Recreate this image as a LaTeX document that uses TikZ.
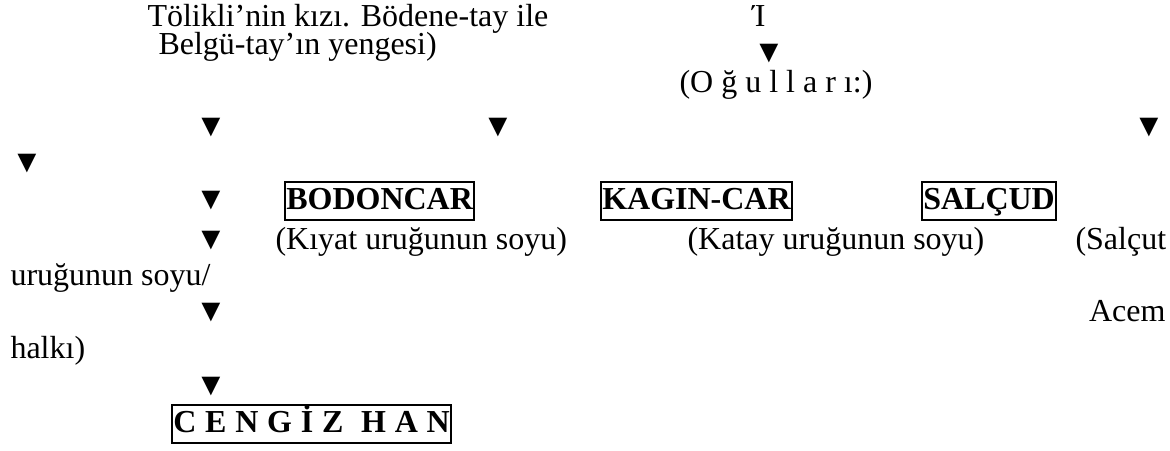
\documentclass[tikz,border=0pt]{standalone}
\usepackage{fontspec}
\setmainfont{Liberation Serif}
\begin{document}
\begin{tikzpicture}[x=0.375pt,y=-0.375pt,
  txt/.style={inner sep=0pt,font=\fontsize{12pt}{14pt}\selectfont,anchor=base west},
  tri/.style={inner sep=0pt,font=\fontsize{12pt}{14pt}\selectfont,anchor=base},
  boxed/.style={draw,line width=0.7pt,inner xsep=0.5pt,inner ysep=0pt,text height=10.5pt,text depth=3.75pt,font=\fontsize{12pt}{14pt}\selectfont\bfseries,anchor=base west}]
\useasboundingbox (0,0) rectangle (1170,451);
% top block
\node[txt] (l1) at (147,27) {Tölikli’nin kızı. Bödene-tay ile};
\node[txt] (l2) at (158,55) {Belgü-tay’ın yengesi)};
\node[tri] (iota) at (759,27) {Ί};
\node[tri] (t1) at (769,63) {▼};
\node[txt] (ogul) at (679,93) {(O ğ u l l a r ı:)};
% row A
\node[tri] (t2) at (211,137) {▼};
\node[tri] (t3) at (498,137) {▼};
\node[tri] (t4) at (1149,137) {▼};
\node[tri] (t5) at (27,173) {▼};
% boxes row
\node[tri] (t6) at (211,210) {▼};
\node[boxed] (bod) at (284,210) {BODONCAR\ };
\node[boxed] (kag) at (600,210) {KAGIN-CAR};
\node[boxed] (sal) at (921,210) {SALÇUD};
% descriptions
\node[tri] (t7) at (211,250) {▼};
\node[txt] (kiy) at (275,250) {(Kıyat uruğunun soyu)};
\node[txt] (kat) at (687,250) {(Katay uruğunun soyu)};
\node[txt] (salc) at (1075,250) {(Salçut};
\node[txt] (uru) at (10,286) {uruğunun soyu/};
\node[tri] (t8) at (211,322) {▼};
\node[txt,anchor=base east] (acem) at (1166,322) {Acem};
\node[txt] (halk) at (10,359) {halkı)};
\node[tri] (t9) at (211,396) {▼};
\node[boxed] (cen) at (171,433) {\spaceskip=3.3pt C E N G İ Z \ H A N\ };
\end{tikzpicture}
\end{document}
